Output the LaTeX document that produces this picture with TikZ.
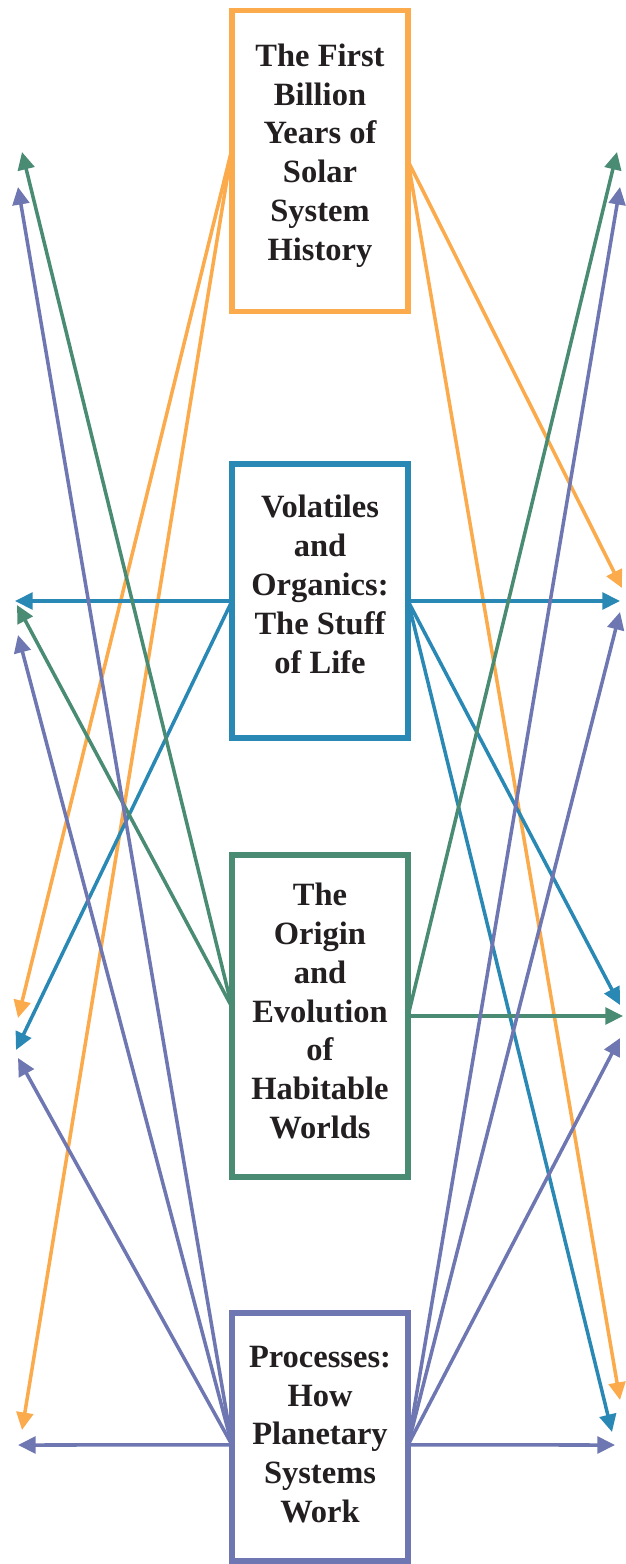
\documentclass[tikz,border=0pt]{standalone}
\usepackage{fontspec}
\setmainfont{Liberation Serif}
\usepackage{xcolor}
\usepackage{tikz}
\usetikzlibrary{positioning, calc, arrows.meta}
\definecolor{sorange}{RGB}{251,170,76}
\definecolor{sblue}{RGB}{42,137,180}
\definecolor{sgreen}{RGB}{74,140,115}
\definecolor{spurple}{RGB}{110,119,178}
\definecolor{stext}{RGB}{35,31,32}

\begin{document}
\begin{tikzpicture}[
    x=0.02cm, y=-0.02cm,
    theme/.style={draw, line width=3.4pt, minimum width=176*0.02cm, outer sep=0pt,
                  inner sep=0pt},
    title/.style={align=center, text=stext, inner sep=0pt,
                  font=\fontsize{18.5}{22.1}\selectfont\bfseries},
    link/.style={line width=2pt, -{Triangle[length=10pt, width=9.5pt]}},
  ]
  \useasboundingbox (0,0) rectangle (625,1564);

  % --- the four themes ---
  \node[theme, draw=sorange, minimum height=301*0.02cm] (first) at (320,161) {};
  \node[title] (first-t) at (320,155.5)
    {The First\\Billion\\Years of\\Solar\\System\\History};
  \node[theme, draw=sblue, minimum height=274*0.02cm] (volat) at (320,601) {};
  \node[title] (volat-t) at (320,584.5)
    {Volatiles\\and\\Organics:\\The Stuff\\of Life};
  \node[theme, draw=sgreen, minimum height=322*0.02cm] (origin) at (320,1016) {};
  \node[title] (origin-t) at (320,1011)
    {The\\Origin\\and\\Evolution\\of\\Habitable\\Worlds};
  \node[theme, draw=spurple, minimum height=248*0.02cm] (proc) at (320,1437) {};
  \node[title] (proc-t) at (320,1434.5)
    {Processes:\\How\\Planetary\\Systems\\Work};

  % --- free ends, left side ---
  \coordinate (l-g1) at (22,152);
  \coordinate (l-p1) at (18,187);
  \coordinate (l-b2) at (15,601);
  \coordinate (l-g2) at (17,605);
  \coordinate (l-p2) at (18,635);
  \coordinate (l-o3) at (18,1018);
  \coordinate (l-b3) at (16,1050);
  \coordinate (l-p3) at (18,1058);
  \coordinate (l-o4) at (22,1430);
  \coordinate (l-p4) at (18,1445);

  % --- free ends, right side ---
  \coordinate (r-g1) at (617,152);
  \coordinate (r-p1) at (620,187);
  \coordinate (r-o2) at (622,588);
  \coordinate (r-b2) at (620,601);
  \coordinate (r-p2) at (620,612);
  \coordinate (r-b3) at (620,1005);
  \coordinate (r-g3) at (623,1016);
  \coordinate (r-p3) at (620,1038);
  \coordinate (r-o4) at (620,1400);
  \coordinate (r-b4) at (612,1432);
  \coordinate (r-p4) at (615,1445);

  % --- first billion years ---
  \draw[link, sorange] ([yshift=7pt]first.west) -- (l-o3);
  \draw[link, sorange] ([yshift=7pt]first.west) -- (l-o4);
  \draw[link, sorange] (first.east) -- (r-o2);
  \draw[link, sorange] (first.east) -- (r-o4);

  % --- volatiles and organics ---
  \draw[link, sblue] (volat.west) -- (l-b2);
  \draw[link, sblue] (volat.west) -- (l-b3);
  \draw[link, sblue] (volat.east) -- (r-b2);
  \draw[link, sblue] (volat.east) -- (r-b3);
  \draw[link, sblue] (volat.east) -- (r-b4);

  % --- habitable worlds ---
  \draw[link, sgreen] ([yshift=5pt]origin.west) -- (l-g1);
  \draw[link, sgreen] ([yshift=5pt]origin.west) -- (l-g2);
  \draw[link, sgreen] (origin.east) -- (r-g1);
  \draw[link, sgreen] (origin.east) -- (r-g3);

  % --- planetary processes ---
  \draw[link, spurple] ([yshift=-4.5pt]proc.west) -- (l-p1);
  \draw[link, spurple] ([yshift=-4.5pt]proc.west) -- (l-p2);
  \draw[link, spurple] ([yshift=-4.5pt]proc.west) -- (l-p3);
  \draw[link, spurple] ([yshift=-4.5pt]proc.west) -- (l-p4);
  \draw[link, spurple] ([yshift=-4.5pt]proc.east) -- (r-p1);
  \draw[link, spurple] ([yshift=-4.5pt]proc.east) -- (r-p2);
  \draw[link, spurple] ([yshift=-4.5pt]proc.east) -- (r-p3);
  \draw[link, spurple] ([yshift=-4.5pt]proc.east) -- (r-p4);

\end{tikzpicture}
\end{document}
